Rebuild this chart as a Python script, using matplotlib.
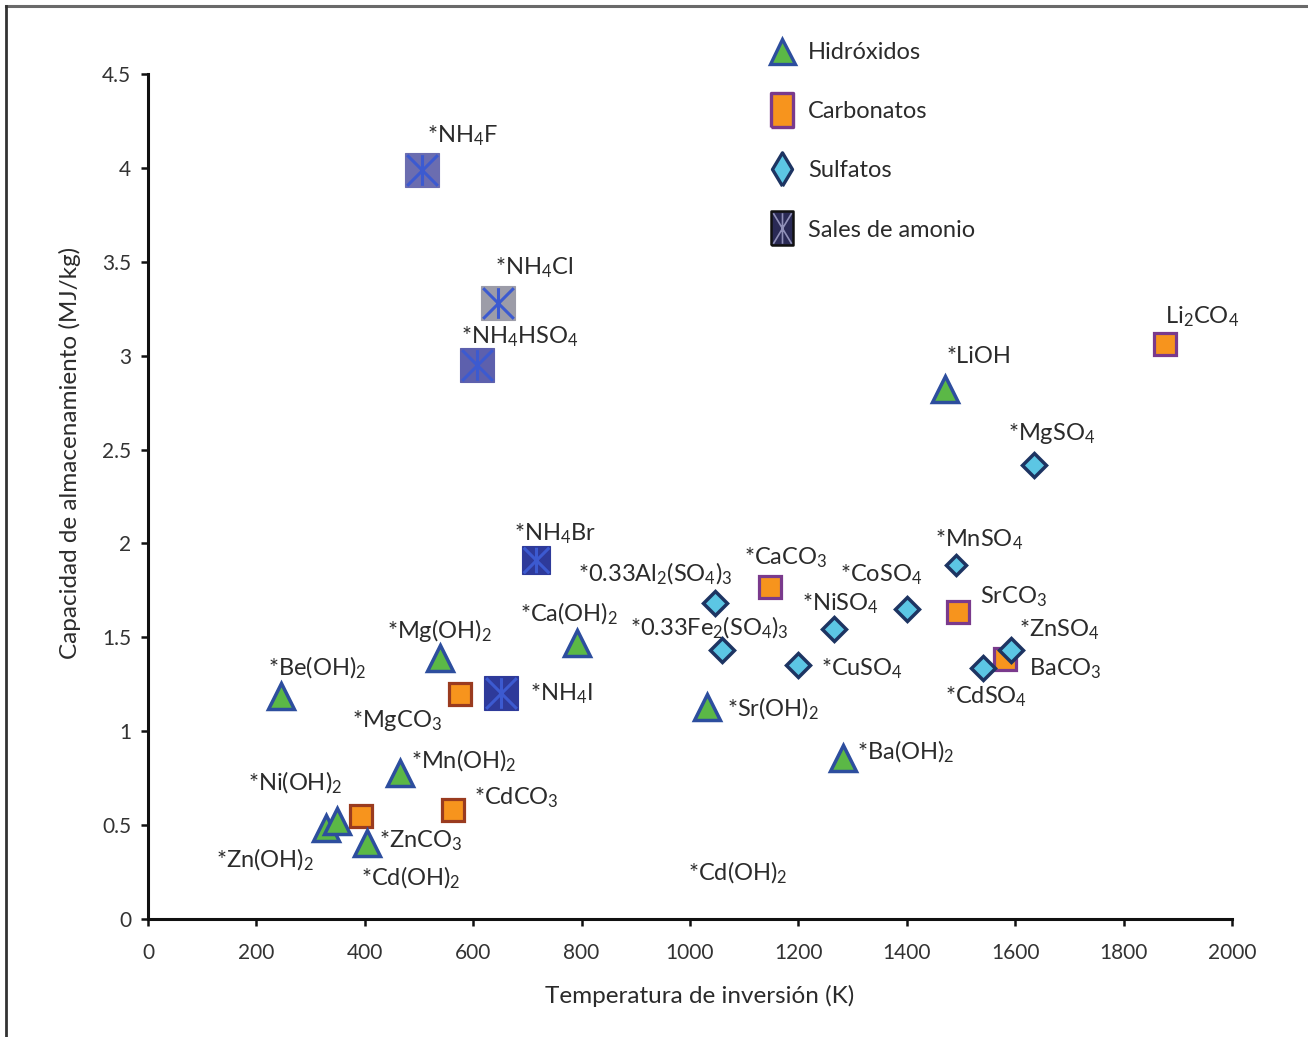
#!/usr/bin/env python3

import matplotlib
matplotlib.use("Agg")
import matplotlib.pyplot as plt
from matplotlib.lines import Line2D
from matplotlib.path import Path
from matplotlib.legend_handler import HandlerTuple

plt.rcParams["font.family"] = ["Lato", "DejaVu Sans"]
plt.rcParams["mathtext.fontset"] = "custom"
plt.rcParams["mathtext.rm"] = "Lato"
plt.rcParams["mathtext.it"] = "Lato:italic"
plt.rcParams["mathtext.bf"] = "Lato:bold"

# --- data (K, MJ/kg) ---
hyd_names = ["*Be(OH)$_2$", "*Mg(OH)$_2$", "*Ca(OH)$_2$", "*Mn(OH)$_2$", "*Zn(OH)$_2$",
             "*Ni(OH)$_2$", "*Cd(OH)$_2$", "*Sr(OH)$_2$", "*Ba(OH)$_2$", "*LiOH"]
hyd_temp = [245, 539, 792, 465, 328, 349, 404, 1031, 1282, 1470]
hyd_cap = [1.19, 1.39, 1.47, 0.78, 0.485, 0.52, 0.405, 1.13, 0.86, 2.82]

carb_names = ["Li$_2$CO$_4$", "*CaCO$_3$", "SrCO$_3$", "BaCO$_3$",
              "*MgCO$_3$", "*ZnCO$_3$", "*CdCO$_3$"]
carb_temp = [1877, 1148, 1494, 1582, 576, 393, 563]
carb_cap = [3.06, 1.77, 1.635, 1.385, 1.20, 0.55, 0.58]

sulf_names = ["*MgSO$_4$", "*MnSO$_4$", "*0.33Al$_2$(SO$_4$)$_3$", "*0.33Fe$_2$(SO$_4$)$_3$",
              "*NiSO$_4$", "*CoSO$_4$", "*CuSO$_4$", "*CdSO$_4$", "*ZnSO$_4$"]
sulf_temp = [1635, 1491, 1047, 1059, 1266, 1400, 1199, 1541, 1593]
sulf_cap = [2.42, 1.885, 1.685, 1.43, 1.545, 1.65, 1.355, 1.335, 1.43]

amon_names = ["*NH$_4$F", "*NH$_4$Cl", "*NH$_4$HSO$_4$", "*NH$_4$Br", "*NH$_4$I"]
amon_temp = [506, 645, 607, 715, 651]
amon_cap = [3.99, 3.28, 2.95, 1.91, 1.205]

# label without marker in the original figure
extra_label = "*Cd(OH)$_2$"
extra_pos = (996, 0.245)

# --- styles ---
carb_edges = ["#7a3a8c", "#7a3a8c", "#7a3a8c", "#7a3a8c", "#9a3b1f", "#9a3b1f", "#9a3b1f"]
sulf_sizes = [12.5, 10, 12.5, 12.5, 12.5, 12.5, 12.5, 12.5, 12.5]
amon_fills = ["#6b6db0", "#9c9ca8", "#5d60ad", "#2e3a9a", "#2e3a9a"]
amon_sizes = [24, 24, 24, 20, 24]

# label offsets in pixels (left edge / vertical centre of text from marker centre)
hyd_off = [(-13, -28), (-53, -27), (-57, -29), (11, -12), (-110, 32),
           (-89, -38), (-6, 35), (20, 2), (14, -6), (2, -33)]
carb_off = [(0, -28), (-26, -29), (22, -15), (24, 10), (-108, 27), (18, 25), (21, -12)]
sulf_off = [(-26, -31), (-21, -25), (-137, -29), (-92, -23), (-32, -25),
            (-67, -34), (23, 4), (-38, 28), (8, -21)]
amon_off = [(5, -34), (-3, -35), (-16, -28), (-22, -27), (29, 1)]

GREEN = "#5bb846"
TRI_EDGE = "#2d4e9e"
ORANGE = "#f7941d"
CYAN = "#5cc6e4"
DIA_EDGE = "#1d3462"
STAR = "#3c5ad0"
TEXT = "#2b2b2b"

star_path = Path([(-1, -1), (1, 1), (-1, 1), (1, -1), (0, -1), (0, 1)],
                 [Path.MOVETO, Path.LINETO, Path.MOVETO, Path.LINETO, Path.MOVETO, Path.LINETO])
tall_rect = [(-0.32, -0.5), (0.32, -0.5), (0.32, 0.5), (-0.32, 0.5), (-0.32, -0.5)]
thin_diamond = [(0, -0.5), (0.3, 0), (0, 0.5), (-0.3, 0), (0, -0.5)]
tall_star = Path([(-0.3, -0.5), (0.3, 0.5), (-0.3, 0.5), (0.3, -0.5), (0, -0.5), (0, 0.5)],
                 [Path.MOVETO, Path.LINETO, Path.MOVETO, Path.LINETO, Path.MOVETO, Path.LINETO])

LABEL_SIZE = 17


def add_labels(ax, names, xs, ys, offsets):
    for n, x, y, (dx, dy) in zip(names, xs, ys, offsets):
        ax.annotate(n, (x, y), xytext=(dx * 0.72, -dy * 0.72), textcoords="offset points",
                    ha="left", va="center", fontsize=LABEL_SIZE, color=TEXT)


fig = plt.figure(figsize=(13.08, 10.37), dpi=100)
ax = fig.add_axes([148 / 1308, 1 - 919 / 1037, (1232 - 148) / 1308, (919 - 74) / 1037])

# carbonates
for x, y, ec in zip(carb_temp, carb_cap, carb_edges):
    ax.plot(x, y, "s", ms=16.5, mfc=ORANGE, mec=ec, mew=2.3, zorder=3)
# hydroxides
ax.plot(hyd_temp, hyd_cap, "^", ls="none", ms=19, mfc=GREEN, mec=TRI_EDGE, mew=2.5, zorder=4)
# sulfates
for x, y, s in zip(sulf_temp, sulf_cap, sulf_sizes):
    ax.plot(x, y, "D", ms=s, mfc=CYAN, mec=DIA_EDGE, mew=2.5, zorder=5)
# ammonium salts
for x, y, fc, s in zip(amon_temp, amon_cap, amon_fills, amon_sizes):
    ax.plot(x, y, "s", ms=s, mfc=fc, mec=fc, mew=0.8, zorder=6)
    ax.plot(x, y, marker=star_path, ms=s * 0.92, mfc="none", mec=STAR, mew=2.2, zorder=7)

add_labels(ax, hyd_names, hyd_temp, hyd_cap, hyd_off)
add_labels(ax, carb_names, carb_temp, carb_cap, carb_off)
add_labels(ax, sulf_names, sulf_temp, sulf_cap, sulf_off)
add_labels(ax, amon_names, amon_temp, amon_cap, amon_off)
ax.text(extra_pos[0], extra_pos[1], extra_label, ha="left", va="center",
        fontsize=LABEL_SIZE, color=TEXT)

ax.set_xlim(0, 2000)
ax.set_ylim(0, 4.5)
ax.set_xticks(range(0, 2001, 200))
ax.set_yticks([0, 0.5, 1, 1.5, 2, 2.5, 3, 3.5, 4, 4.5])
ax.set_yticklabels(["0", "0.5", "1", "1.5", "2", "2.5", "3", "3.5", "4", "4.5"])
for side in ["top", "right"]:
    ax.spines[side].set_visible(False)
for side in ["left", "bottom"]:
    ax.spines[side].set_linewidth(2.2)
    ax.spines[side].set_color("#111111")
ax.tick_params(axis="both", direction="out", length=5, width=1.8, color="#111111",
               labelsize=15, labelcolor="#333333")
ax.tick_params(axis="x", pad=12)
ax.tick_params(axis="y", pad=7)
ax.set_xlabel("Temperatura de inversión (K)", fontsize=17.5, color=TEXT)
ax.set_ylabel("Capacidad de almacenamiento (MJ/kg)", fontsize=17.5, color=TEXT)
ax.xaxis.set_label_coords((700 - 148) / 1084, (919 - 996) / 845)
ax.yaxis.set_label_coords((70 - 148) / 1084, (919 - 453) / 845)
ax.xaxis.label.set_va("center")
ax.yaxis.label.set_va("center")

# legend
h_hyd = Line2D([], [], ls="none", marker="^", ms=18, mfc=GREEN, mec=TRI_EDGE, mew=2.4)
h_carb = Line2D([], [], ls="none", marker=tall_rect, ms=24, mfc=ORANGE, mec="#7a3a8c", mew=2.4)
h_sulf = Line2D([], [], ls="none", marker=thin_diamond, ms=24, mfc=CYAN, mec=DIA_EDGE, mew=2.4)
h_am1 = Line2D([], [], ls="none", marker=tall_rect, ms=24, mfc="#2a2a55", mec="#111111", mew=1.8)
h_am2 = Line2D([], [], ls="none", marker=tall_star, ms=22, mfc="none", mec="#9090b8", mew=1.2)
ax.legend([h_hyd, h_carb, h_sulf, (h_am1, h_am2)],
          ["Hidróxidos", "Carbonatos", "Sulfatos", "Sales de amonio"],
          handler_map={tuple: HandlerTuple(ndivide=1, pad=0)},
          loc="upper left", bbox_to_anchor=(756 / 1308, 1 - 30 / 1037),
          bbox_transform=fig.transFigure, frameon=False, fontsize=17,
          labelspacing=1.62, handlelength=1.2, handletextpad=0.5, borderpad=0,
          labelcolor=TEXT)

# outer frame of the figure
fig.add_artist(Line2D([6 / 1308, 1], [1 - 6 / 1037, 1 - 6 / 1037], transform=fig.transFigure,
                      color="#6a6a6a", lw=2.2))
fig.add_artist(Line2D([6 / 1308, 6 / 1308], [0, 1 - 6 / 1037], transform=fig.transFigure,
                      color="#333333", lw=2.0))

fig.savefig("out.png", dpi=100, facecolor="white")
